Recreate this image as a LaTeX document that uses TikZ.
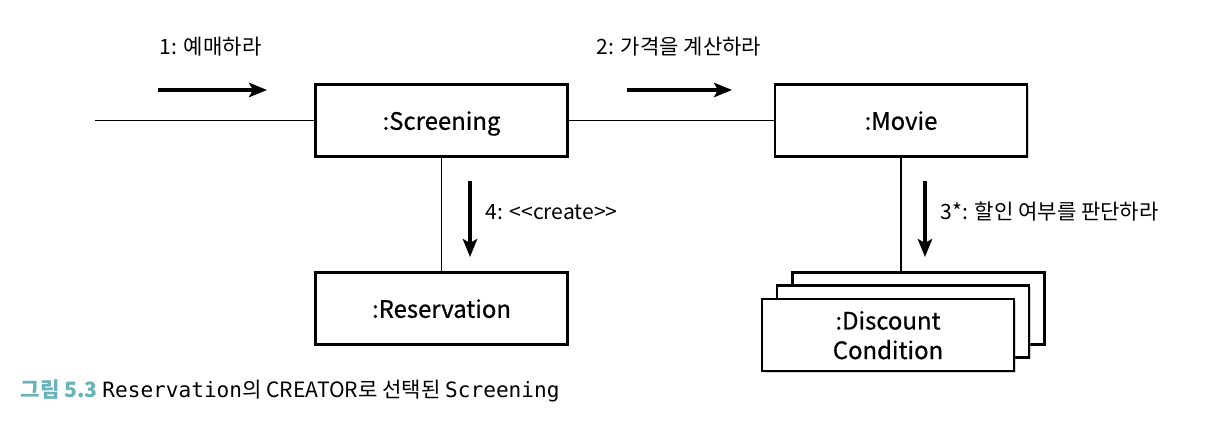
\documentclass[tikz,border=0pt]{standalone}
\usepackage{fontspec}
\setmainfont{Noto Sans CJK KR}
\newfontfamily\objectfont{Noto Sans CJK KR}[FakeBold=0.6]
\newfontfamily\codefont{DejaVu Sans Mono}
\usetikzlibrary{arrows.meta,shadows}

\definecolor{figurecolor}{RGB}{104,178,186}

\begin{document}
\begin{tikzpicture}
  [x=0.025cm,y=-0.025cm,
   % Styles
   object/.style={draw,line width=1.5pt,fill=white,
     minimum width=6.3cm,minimum height=1.8cm,align=center,
     text depth=0pt,font=\objectfont\fontsize{17}{21}\selectfont,
     drop shadow={shadow xshift=1.2pt,shadow yshift=-1.2pt,opacity=0.35}},
   link/.style={line width=1.1pt},
   message/.style={line width=2.3pt,-{Stealth[length=4.5mm,width=3.6mm,inset=1mm]}},
   message text/.style={anchor=west,font=\fontsize{15}{18}\selectfont}]

  \useasboundingbox (0,0) rectangle (1226,432);

  % Objects
  \node[object] (screening) at (441.5,120.5) {:Screening};
  \node[object] (movie) at (901,120.5) {:Movie};
  \node[object] (reservation) at (441.5,308.5) {:Reservation};

  \node[object] (condition back) at (918.5,308.5) {};
  \node[object] (condition middle) at (903,321.5) {};
  \node[object] (condition) at (888,335) {:Discount\\Condition};

  % Links
  \coordinate (caller) at (95,120.5);
  \draw[link] (caller) -- (screening);
  \draw[link] (screening) -- (movie);
  \draw[link] (screening) -- (reservation);
  \draw[link] (movie.south) -- (movie.south |- condition back.north);

  % Messages
  \coordinate (m1 tail) at (158,90);
  \coordinate (m1 head) at (267,90);
  \coordinate (m2 tail) at (627,90);
  \coordinate (m2 head) at (732,90);
  \coordinate (m3 tail) at (925,181);
  \coordinate (m3 head) at (925,257);
  \coordinate (m4 tail) at (470,181);
  \coordinate (m4 head) at (470,257);

  \draw[message] (m1 tail) -- (m1 head);
  \draw[message] (m2 tail) -- (m2 head);
  \draw[message] (m3 tail) -- (m3 head);
  \draw[message] (m4 tail) -- (m4 head);

  \node[message text] (m1 text) at (155,47) {1: 예매하라};
  \node[message text] (m2 text) at (592,47) {2: 가격을 계산하라};
  \node[message text] (m3 text) at (936,212) {3*: 할인 여부를 판단하라};
  \node[message text] (m4 text) at (481,212) {4: <{}<create>{}>};

  % Caption
  \node[anchor=west,font=\fontsize{15}{18}\selectfont] (caption) at (16,391)
    {{\color{figurecolor}\bfseries 그림 5.3} {\codefont Reservation}의 CREATOR로 선택된 {\codefont Screening}};
\end{tikzpicture}
\end{document}
